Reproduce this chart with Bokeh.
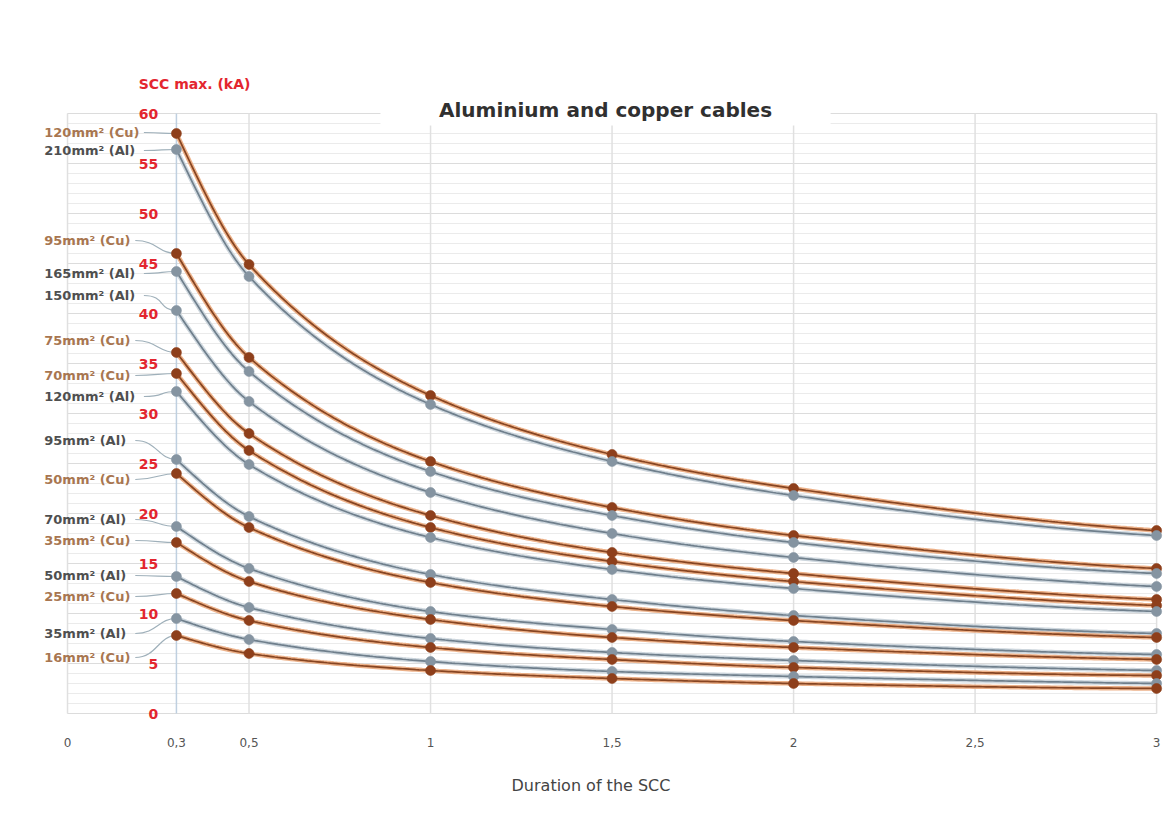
import numpy as np
from bokeh.plotting import figure
from bokeh.models import ColumnDataSource, Label, FixedTicker, CustomJSTickFormatter
from bokeh.core.properties import value
from bokeh.embed import file_html
from bokeh.resources import INLINE

# ---------------- data ----------------
durations = [0.3, 0.5, 1, 1.5, 2, 3]

cu_120 = [58.0, 44.9, 31.8, 25.9, 22.5, 18.3]
al_210 = [56.4, 43.7, 30.9, 25.2, 21.8, 17.8]
cu_95 = [46.0, 35.6, 25.2, 20.6, 17.8, 14.5]
al_165 = [44.2, 34.2, 24.2, 19.8, 17.1, 14.0]
al_150 = [40.3, 31.2, 22.1, 18.0, 15.6, 12.7]
cu_75 = [36.1, 28.0, 19.8, 16.1, 14.0, 11.4]
cu_70 = [34.0, 26.3, 18.6, 15.2, 13.2, 10.8]
al_120 = [32.2, 24.9, 17.6, 14.4, 12.5, 10.2]
al_95 = [25.4, 19.7, 13.9, 11.4, 9.8, 8.0]
cu_50 = [24.0, 18.6, 13.1, 10.7, 9.3, 7.6]
al_70 = [18.7, 14.5, 10.2, 8.4, 7.2, 5.9]
cu_35 = [17.1, 13.2, 9.4, 7.6, 6.6, 5.4]
al_50 = [13.7, 10.6, 7.5, 6.1, 5.3, 4.3]
cu_25 = [12.0, 9.3, 6.6, 5.4, 4.6, 3.8]
al_35 = [9.5, 7.4, 5.2, 4.2, 3.7, 3.0]
cu_16 = [7.8, 6.0, 4.3, 3.5, 3.0, 2.5]

series_names = ["120mm² (Cu)", "210mm² (Al)", "95mm² (Cu)", "165mm² (Al)",
                "150mm² (Al)", "75mm² (Cu)", "70mm² (Cu)", "120mm² (Al)",
                "95mm² (Al)", "50mm² (Cu)", "70mm² (Al)", "35mm² (Cu)",
                "50mm² (Al)", "25mm² (Cu)", "35mm² (Al)", "16mm² (Cu)"]
series_metal = ["Cu", "Al", "Cu", "Al", "Al", "Cu", "Cu", "Al",
                "Al", "Cu", "Al", "Cu", "Al", "Cu", "Al", "Cu"]
series_values = [cu_120, al_210, cu_95, al_165, al_150, cu_75, cu_70, al_120,
                 al_95, cu_50, al_70, cu_35, al_50, cu_25, al_35, cu_16]

# vertical placement of the cable name labels (kA units, layout only)
label_y = [58.1, 56.3, 47.3, 44.0, 41.8, 37.3, 33.8, 31.7,
           27.3, 23.4, 19.4, 17.3, 13.8, 11.7, 8.0, 5.6]

x_ticks = [0, 0.3, 0.5, 1, 1.5, 2, 2.5, 3]
y_ticks = [0, 5, 10, 15, 20, 25, 30, 35, 40, 45, 50, 55, 60]
y_minor = list(range(0, 61))
v_grid = [0, 0.5, 1, 1.5, 2, 2.5, 3]

title_text = "Aluminium and copper cables"
y_title = "SCC max. (kA)"
x_title = "Duration of the SCC"

# ---------------- styles ----------------
PX_X = 363.0   # px per second
colors = {
    "Cu": dict(dark="#874522", light="#eaa97c", marker="#8e3f1b", label="#a87650"),
    "Al": dict(dark="#6f7f8c", light="#c8d1d9", marker="#8594a1", label="#4f4f4f"),
}
RED = "#e3262f"


def pchip(x, y, xs):
    x = np.asarray(x, float)
    y = np.asarray(y, float)
    h = np.diff(x)
    d = np.diff(y) / h
    n = len(x)
    m = np.zeros(n)
    for k in range(1, n - 1):
        if d[k - 1] * d[k] > 0:
            w1 = 2 * h[k] + h[k - 1]
            w2 = h[k] + 2 * h[k - 1]
            m[k] = (w1 + w2) / (w1 / d[k - 1] + w2 / d[k])

    def end(h0, h1, d0, d1):
        mm = ((2 * h0 + h1) * d0 - h0 * d1) / (h0 + h1)
        if np.sign(mm) != np.sign(d0):
            mm = 0.0
        elif np.sign(d0) != np.sign(d1) and abs(mm) > abs(3 * d0):
            mm = 3 * d0
        return mm

    m[0] = end(h[0], h[1], d[0], d[1])
    m[-1] = end(h[-1], h[-2], d[-1], d[-2])
    idx = np.clip(np.searchsorted(x, xs) - 1, 0, n - 2)
    t = (xs - x[idx]) / h[idx]
    h00 = 2 * t**3 - 3 * t**2 + 1
    h10 = t**3 - 2 * t**2 + t
    h01 = -2 * t**3 + 3 * t**2
    h11 = t**3 - t**2
    return h00 * y[idx] + h10 * h[idx] * m[idx] + h01 * y[idx + 1] + h11 * h[idx] * m[idx + 1]


# ---------------- figure ----------------
p = figure(width=1165, height=827,
           x_range=(-0.135, 3.019), y_range=(-0.7, 65.3),
           output_backend="svg", toolbar_location=None,
           y_axis_location=None,
           min_border_left=18, min_border_right=2,
           min_border_top=60, min_border_bottom=107)
p.grid.visible = False
p.outline_line_color = None
p.background_fill_color = "white"
p.border_fill_color = "white"

# grid
p.segment(x0=[0] * len(y_minor), y0=y_minor, x1=[3] * len(y_minor), y1=y_minor,
          line_color="#ebebeb", line_width=1)
p.segment(x0=[0] * len(y_ticks), y0=y_ticks, x1=[3] * len(y_ticks), y1=y_ticks,
          line_color="#dcdcdc", line_width=1)
p.segment(x0=v_grid, y0=[0] * len(v_grid), x1=v_grid, y1=[60] * len(v_grid),
          line_color="#e0e0e0", line_width=1.5)
p.segment(x0=[0.3], y0=[0], x1=[0.3], y1=[60], line_color="#bfd0e0", line_width=1.5)

# title backdrop + title
p.quad(left=[0.862], right=[2.102], bottom=[58.8], top=[61.9],
       fill_color="white", line_color=None)
p.add_layout(Label(x=1.482, y=60.4, text=title_text, text_align="center",
                   text_baseline="middle", text_font="DejaVu Sans",
                   text_font_style="bold", text_font_size="20px",
                   text_color="#303030"))

# leader lines
lx = -0.064
lead = dict(x0=[], y0=[], x1=[], y1=[], cx0=[], cy0=[], cx1=[], cy1=[])
for name, vals, ly in zip(series_names, series_values, label_y):
    x0 = lx + (len(name) * 8.6 + 5) / PX_X
    lead["x0"].append(x0)
    lead["y0"].append(ly)
    lead["x1"].append(durations[0])
    lead["y1"].append(vals[0])
    lead["cx0"].append(x0 + 0.06)
    lead["cy0"].append(ly)
    lead["cx1"].append(durations[0] - 0.05)
    lead["cy1"].append(vals[0])
p.bezier(x0="x0", y0="y0", x1="x1", y1="y1", cx0="cx0", cy0="cy0", cx1="cx1", cy1="cy1",
         source=ColumnDataSource(lead), line_color="#9fb0ba", line_width=1.2)

# curves
xs = np.linspace(durations[0], durations[-1], 300)
for vals, metal in zip(series_values, series_metal):
    ys = pchip(durations, vals, xs)
    c = colors[metal]
    p.line(xs, ys, line_color=c["light"], line_width=4.5, line_alpha=0.9)
    p.line(xs, ys, line_color=c["dark"], line_width=1.7)

for vals, metal in zip(series_values, series_metal):
    c = colors[metal]
    p.scatter(durations, vals, size=10, fill_color=c["marker"], line_color=c["marker"],
              line_alpha=0.6, line_width=1)

# cable labels
p.text(x=[lx] * len(series_names), y=label_y, text=series_names,
       text_color=[colors[m]["label"] for m in series_metal],
       text_font=value("DejaVu Sans"), text_font_style="bold", text_font_size="13px",
       text_align="left", text_baseline="middle")

# y tick labels (red, inside)
p.text(x=[0.25] * len(y_ticks), y=y_ticks, text=[str(v) for v in y_ticks],
       text_color=RED, text_font=value("DejaVu Sans"), text_font_style="bold",
       text_font_size="14px", text_align="right", text_baseline="middle")

p.add_layout(Label(x=0.196, y=63.0, text=y_title, text_align="left",
                   text_baseline="middle", text_font="DejaVu Sans",
                   text_font_style="bold", text_font_size="14px", text_color=RED))

# x axis
ax = p.xaxis[0]
ax.ticker = FixedTicker(ticks=x_ticks)
ax.formatter = CustomJSTickFormatter(code="return tick.toString().replace('.', ',');")
ax.axis_line_color = None
ax.major_tick_line_color = None
ax.minor_tick_line_color = None
ax.major_label_standoff = 11
ax.major_label_text_font = "DejaVu Sans"
ax.major_label_text_font_size = "12px"
ax.major_label_text_color = "#555555"
ax.axis_label = x_title
ax.axis_label_standoff = 26
ax.axis_label_text_font = "DejaVu Sans"
ax.axis_label_text_font_style = "normal"
ax.axis_label_text_font_size = "16px"
ax.axis_label_text_color = "#444444"

open("out.html", "w").write(file_html(p, INLINE))
